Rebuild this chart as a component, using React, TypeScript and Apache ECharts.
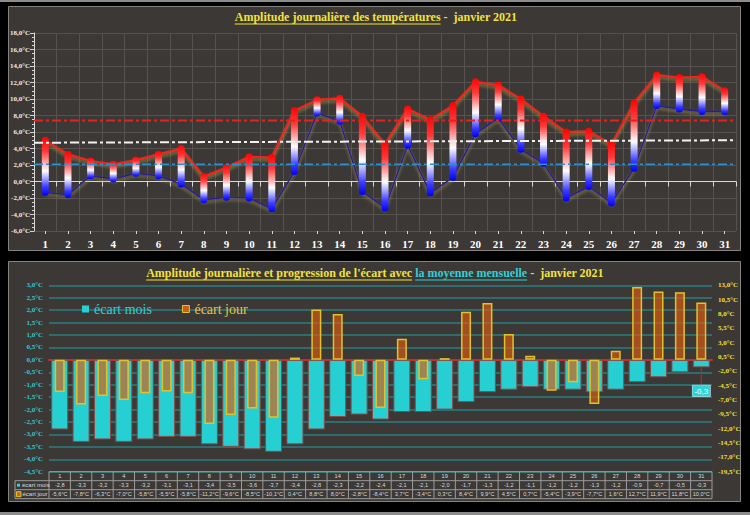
import React, { useEffect, useRef } from 'react';
import * as echarts from 'echarts';

// ---------- data ----------
const days = ['1','2','3','4','5','6','7','8','9','10','11','12','13','14','15','16','17','18','19','20','21','22','23','24','25','26','27','28','29','30','31'];
const tMax = [5.0,3.3,2.5,2.1,2.6,3.3,4.0,0.6,1.7,3.0,2.9,8.6,9.9,10.1,7.9,4.5,8.8,7.5,9.2,12.1,11.7,10.0,7.9,6.0,6.1,4.5,9.5,12.9,12.6,12.7,11.0];
const tMin = [-1.3,-1.6,0.7,0.3,1.0,0.7,-0.3,-2.2,-1.9,-2.0,-3.3,1.2,8.3,7.3,-1.2,-3.2,4.4,-1.4,0.5,5.8,7.7,3.9,2.2,-2.0,-0.6,-2.6,1.6,9.2,8.8,8.5,8.5];
const normalMax = [7.4, 7.4];
const normalMin = [2.1, 2.1];
const normalMean = [4.7, 5.0];
const ecartMois = [-2.8,-3.3,-3.2,-3.3,-3.2,-3.1,-3.1,-3.4,-3.5,-3.6,-3.7,-3.4,-2.8,-2.3,-2.2,-2.4,-2.1,-2.1,-2.0,-1.7,-1.3,-1.2,-1.1,-1.2,-1.2,-1.3,-1.2,-0.9,-0.7,-0.5,-0.3];
const ecartJour = [-5.6,-7.8,-6.3,-7.0,-5.8,-5.5,-5.8,-11.2,-9.6,-8.5,-10.1,0.4,8.8,8.0,-2.8,-8.4,3.7,-3.4,0.3,8.4,9.9,4.5,0.7,-5.4,-3.9,-7.7,1.6,12.7,11.9,11.8,10.0];

const serif = '"Liberation Serif", "Times New Roman", serif';
const sans = '"Liberation Sans", Arial, sans-serif';
const fmt = (v: number) => v.toFixed(1).replace('.', ',');
const YELLOW = '#f2e23a';
const CYAN = '#30d0d6';

function measure(text: string, font: string) {
  const c = document.createElement('canvas').getContext('2d')!;
  c.font = font;
  return c.measureText(text).width;
}

function titleGraphics(pieces: { t: string; c: string; u: boolean }[], cx: number, cy: number) {
  const font = `bold 12px ${serif}`;
  const widths = pieces.map(p => measure(p.t, font));
  const total = widths.reduce((a, b) => a + b, 0);
  let x = cx - total / 2;
  const out: any[] = [];
  pieces.forEach((p, i) => {
    out.push({ type: 'text', x, y: cy, z: 20, style: { text: p.t, fill: p.c, font, textAlign: 'left', textVerticalAlign: 'middle' } });
    if (p.u) {
      const w = measure(p.t.replace(/\s+$/, ''), font);
      out.push({ type: 'line', z: 20, shape: { x1: x, y1: cy + 7, x2: x + w, y2: cy + 7 }, style: { stroke: p.c, lineWidth: 1 } });
    }
    x += widths[i];
  });
  return out;
}

export default function App() {
  const ref = useRef<HTMLDivElement>(null);
  useEffect(() => {
    document.body.style.margin = '0';
    document.body.style.background = '#000';
    const chart = echarts.init(ref.current!, null, { renderer: 'svg' });

    const barGrad = new echarts.graphic.LinearGradient(0, 0, 0, 1, [
      { offset: 0, color: '#ff0000' },
      { offset: 0.25, color: '#ff3a3a' },
      { offset: 0.58, color: '#ffffff' },
      { offset: 0.85, color: '#3a3aff' },
      { offset: 1, color: '#0000ee' },
    ]);
    const glow = { shadowColor: 'rgba(175,165,70,0.7)', shadowBlur: 3, shadowOffsetY: 2.5 };
    const refLine = (data: number[], color: string, width: number) => ({
      type: 'line', xAxisIndex: 2, yAxisIndex: 0, symbol: 'none', z: 5, silent: true,
      data: [[0, data[0]], [31, data[1]]],
      lineStyle: { color, width, type: [9, 3, 3, 3] },
    });

    const option: any = {
      animation: false,
      backgroundColor: 'transparent',
      legend: {
        left: 77, top: 297, itemWidth: 7, itemHeight: 7, itemGap: 30, icon: 'rect',
        textStyle: { fontFamily: serif, fontSize: 14 },
        data: [
          { name: 'écart mois', textStyle: { color: CYAN }, itemStyle: { color: '#26d0d2', borderWidth: 0 } },
          { name: 'écart jour', textStyle: { color: '#e8c548' }, itemStyle: { color: '#c8601a', borderColor: '#e2c22c', borderWidth: 1 } },
        ],
      },
      grid: [
        { left: 34, right: 14, top: 33, height: 198 },
        { left: 49, right: 38, top: 285.3, height: 186.4 },
      ],
      xAxis: [
        {
          type: 'category', gridIndex: 0, data: days, boundaryGap: true,
          axisLine: { lineStyle: { color: '#d8d8d8' } },
          axisTick: { show: true, length: 5, lineStyle: { color: '#d8d8d8' } },
          axisLabel: { color: '#ffffff', fontFamily: serif, fontWeight: 'bold', fontSize: 11, margin: 7 },
          splitLine: { show: true, lineStyle: { color: '#56524f' } },
        },
        {
          type: 'category', gridIndex: 0, data: days, position: 'bottom',
          axisLine: { show: false },
          axisTick: { show: true, alignWithLabel: true, length: 3, lineStyle: { color: '#d8d8d8' } },
          axisLabel: { show: false }, splitLine: { show: false },
        },
        { type: 'value', gridIndex: 0, min: 0, max: 31, show: false },
        {
          type: 'category', gridIndex: 1, data: days,
          axisLine: { onZero: true, lineStyle: { color: '#d22828', width: 2 } },
          axisTick: { show: false }, axisLabel: { show: false }, splitLine: { show: false },
        },
        { type: 'category', gridIndex: 1, data: days, show: false },
      ],
      yAxis: [
        {
          type: 'value', gridIndex: 0, min: -6, max: 18, interval: 2,
          axisLine: { show: true, lineStyle: { color: '#d8d8d8' } },
          axisTick: { show: true, length: 4, lineStyle: { color: '#d8d8d8' } },
          minorTick: { show: true, splitNumber: 4, length: 2, lineStyle: { color: '#d8d8d8' } },
          axisLabel: { formatter: (v: number) => fmt(v) + '°C', color: '#eeeeee', fontSize: 7, fontWeight: 'bold', fontFamily: serif, margin: 4 },
          splitLine: { lineStyle: { color: '#56524f' } },
        },
        {
          type: 'value', gridIndex: 1, min: -4.5, max: 3, interval: 0.5, position: 'left',
          axisLine: { show: false }, axisTick: { show: false },
          axisLabel: { formatter: (v: number) => fmt(v) + '°C', color: '#35c8cc', fontSize: 7, fontWeight: 'bold', fontFamily: serif, margin: 6 },
          splitLine: { lineStyle: { color: '#2d7e82', width: 1.5 } },
        },
        {
          type: 'value', gridIndex: 1, min: -19.5, max: 13, interval: 2.5, position: 'right',
          axisLine: { show: false }, axisTick: { show: false },
          axisLabel: { formatter: (v: number) => fmt(v) + '°C', color: '#f0e030', fontSize: 7, fontWeight: 'bold', fontFamily: serif, margin: 6 },
          splitLine: { show: false },
        },
      ],
      series: [
        {
          type: 'line', xAxisIndex: 0, yAxisIndex: 0, data: tMax, symbol: 'none', z: 2,
          lineStyle: { color: '#ff1a1a', width: 2, ...glow },
        },
        {
          type: 'line', xAxisIndex: 0, yAxisIndex: 0, data: tMin, symbol: 'none', z: 2,
          lineStyle: { color: '#2a1c92', width: 1.6, ...glow },
        },
        {
          type: 'custom', xAxisIndex: 0, yAxisIndex: 0, z: 3,
          data: tMax.map((v, i) => [i, v, tMin[i]]),
          encode: { x: 0, y: [1, 2] },
          renderItem: (params: any, api: any) => {
            const top = api.coord([api.value(0), api.value(1)]);
            const bot = api.coord([api.value(0), api.value(2)]);
            const w = 7;
            return {
              type: 'rect',
              shape: { x: top[0] - w / 2, y: top[1] - w / 2, width: w, height: bot[1] - top[1] + w, r: w / 2 },
              style: { fill: barGrad },
            };
          },
        },
        refLine(normalMax, '#e42222', 2),
        refLine(normalMean, '#f2f2f2', 2),
        refLine(normalMin, '#2a90d2', 1.5),
        {
          name: 'écart mois', type: 'bar', xAxisIndex: 3, yAxisIndex: 1, barWidth: 17, z: 2,
          itemStyle: { color: '#26d0d2', borderColor: '#8a4a48', borderWidth: 1 },
          labelLayout: { dy: 14 },
          data: ecartMois.map((v, i) => i === ecartMois.length - 1 ? {
            value: v,
            label: {
              show: true, position: 'bottom', distance: 4,
              formatter: (p: any) => fmt(p.value), color: '#ffffff', fontSize: 8, fontFamily: sans,
              backgroundColor: '#30d4d8', borderColor: '#e8e8e8', borderWidth: 0.5, padding: [2, 2, 1, 2],
            },
            labelLine: { show: true, lineStyle: { color: '#d02020', width: 1 } },
          } : v),
        },
        {
          name: 'écart jour', type: 'bar', xAxisIndex: 4, yAxisIndex: 2, barWidth: 10, z: 3,
          itemStyle: { color: 'rgba(218,92,18,0.66)', borderColor: '#e2c22c', borderWidth: 1.5 },
          data: ecartJour,
        },
      ],
    };
    chart.setOption(option);

    // ---- graphics: panels, titles, table ----
    const colX = days.map((d, i) => chart.convertToPixel({ xAxisIndex: 3 }, i) as number);
    const cw = colX[1] - colX[0];
    const tTop = chart.convertToPixel({ yAxisIndex: 1 }, -4.5) as number;
    const rowH = 9;
    const xL = colX[0] - cw / 2;
    const xR = colX[colX.length - 1] + cw / 2;
    const hdrL = 15;
    const lc = '#9c9c9c';
    const g: any[] = [];
    g.push({ type: 'rect', z: -10, shape: { x: 0, y: 0, width: 750, height: 2 }, style: { fill: '#8c8c8c' } });
    g.push({ type: 'rect', z: -10, shape: { x: 0, y: 512, width: 750, height: 3 }, style: { fill: '#8c8c8c' } });
    g.push({ type: 'rect', z: -10, shape: { x: 8.5, y: 6.5, width: 732, height: 244 }, style: { fill: '#3b3836', stroke: '#858280', lineWidth: 1 } });
    g.push({ type: 'rect', z: -10, shape: { x: 8.5, y: 261.5, width: 732, height: 240 }, style: { fill: '#3b3836', stroke: '#858280', lineWidth: 1 } });

    g.push(...titleGraphics([
      { t: 'Amplitude journalière des températures ', c: YELLOW, u: true },
      { t: '-  janvier 2021', c: YELLOW, u: false },
    ], 376, 17));
    g.push(...titleGraphics([
      { t: "Amplitude journalière et progression de l'écart avec ", c: YELLOW, u: true },
      { t: 'la moyenne mensuelle ', c: CYAN, u: true },
      { t: '-  janvier 2021', c: YELLOW, u: false },
    ], 375, 273));

    // table lines
    const y1 = tTop + rowH, y2 = tTop + 2 * rowH, y3 = tTop + 3 * rowH;
    const hl = (x1: number, x2: number, y: number) => g.push({ type: 'line', z: 20, shape: { x1, y1: y, x2, y2: y }, style: { stroke: lc, lineWidth: 1 } });
    const vl = (x: number, ya: number, yb: number) => g.push({ type: 'line', z: 20, shape: { x1: x, y1: ya, x2: x, y2: yb }, style: { stroke: lc, lineWidth: 1 } });
    hl(xL, xR, tTop);
    hl(hdrL, xR, y1);
    hl(hdrL, xR, y2);
    hl(hdrL, xR, y3);
    vl(hdrL, y1, y3);
    for (let i = 0; i <= days.length; i++) vl(xL + i * cw, tTop, y3);
    const cell = (text: string, x: number, y: number, align = 'center', size = 5.6) => g.push({
      type: 'text', z: 21, x, y,
      style: { text, fill: '#dcdcdc', font: `${size}px ${sans}`, textAlign: align, textVerticalAlign: 'middle' },
    });
    days.forEach((d, i) => {
      cell(d, colX[i], tTop + rowH / 2);
      cell(fmt(ecartMois[i]), colX[i], y1 + rowH / 2);
      cell(fmt(ecartJour[i]) + '°C', colX[i], y2 + rowH / 2);
    });
    g.push({ type: 'rect', z: 21, shape: { x: 17, y: y1 + 3, width: 3, height: 3 }, style: { fill: CYAN } });
    cell('écart mois', 22, y1 + rowH / 2, 'left', 6);
    g.push({ type: 'rect', z: 21, shape: { x: 16.5, y: y2 + 2, width: 4.5, height: 5 }, style: { fill: '#c46a1a', stroke: '#e2c22c', lineWidth: 1 } });
    cell('écart jour', 22.5, y2 + rowH / 2, 'left', 6);

    chart.setOption({ graphic: g });
    return () => chart.dispose();
  }, []);
  return <div ref={ref} style={{ width: 750, height: 515, background: '#000' }} />;
}
